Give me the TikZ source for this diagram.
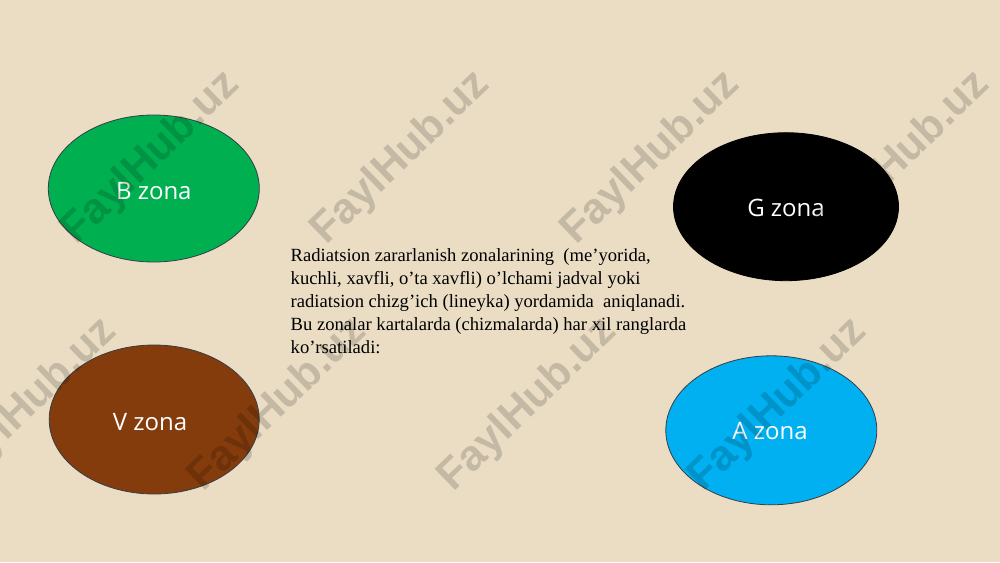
\documentclass[tikz,border=0pt]{standalone}
\usepackage{fontspec}
\setmainfont{Liberation Serif}
\newfontfamily\labfont{Open Sans}
\newfontfamily\wmfont{Liberation Sans}
\usetikzlibrary{shapes.geometric}
\definecolor{bg}{RGB}{234,221,196}
\definecolor{zgreen}{RGB}{0,176,80}
\definecolor{zbrown}{RGB}{132,60,12}
\definecolor{zblue}{RGB}{0,176,240}
\definecolor{zedge}{RGB}{55,60,70}
\tikzset{
  zone/.style={ellipse, draw=zedge, line width=0.8pt, inner sep=0pt},
  zlabel/.style={font=\labfont\fontsize{24}{28}\selectfont, text=white, anchor=base, inner sep=0pt},
  body/.style={font=\fontsize{18.6}{22.8}\selectfont, align=left, anchor=north west, inner sep=0pt},
  wmark/.style={font=\wmfont\bfseries\fontsize{43}{43}\selectfont, text=black, text opacity=0.16, rotate=44, inner sep=0pt}
}
\begin{document}
\begin{tikzpicture}[x=1pt,y=-1pt]
\fill[bg] (0,0) rectangle (1000,562);
\useasboundingbox (0,0) rectangle (1000,562);

\node[zone, fill=zgreen, minimum width=211pt, minimum height=147pt] (bz) at (153.8,188.5) {};
\node[zone, fill=black, draw=black, minimum width=225pt, minimum height=148pt] (gz) at (786,206.7) {};
\node[zone, fill=zbrown, minimum width=210pt, minimum height=149pt] (vz) at (154.2,419.5) {};
\node[zone, fill=zblue, minimum width=211pt, minimum height=149pt] (az) at (771.3,430.3) {};

\node[zlabel] (bl) at (153.8,199) {B zona};
\node[zlabel] (gl) at (786,216.7) {G zona};
\node[zlabel] (vl) at (150,430) {V zona};
\node[zlabel] (al) at (770,439) {A zona};

\node[body] (txt) at (290.5,248.8) {Radiatsion zararlanish zonalarining\ \ (me’yorida,\\
kuchli, xavfli, o’ta xavfli) o’lchami jadval yoki\\
radiatsion chizg’ich (lineyka) yordamida\ \ aniqlanadi.\\
Bu zonalar kartalarda (chizmalarda) har xil ranglarda\\
ko’rsatiladi:};

\node[wmark] (w1) at (151,158) {FaylHub.uz};
\node[wmark] (w2) at (401,158) {FaylHub.uz};
\node[wmark] (w3) at (651,158) {FaylHub.uz};
\node[wmark] (w4) at (901,158) {FaylHub.uz};
\node[wmark] (w5) at (28,405) {FaylHub.uz};
\node[wmark] (w6) at (278,405) {FaylHub.uz};
\node[wmark] (w7) at (528,405) {FaylHub.uz};
\node[wmark] (w8) at (778,405) {FaylHub.uz};
\end{tikzpicture}
\end{document}
